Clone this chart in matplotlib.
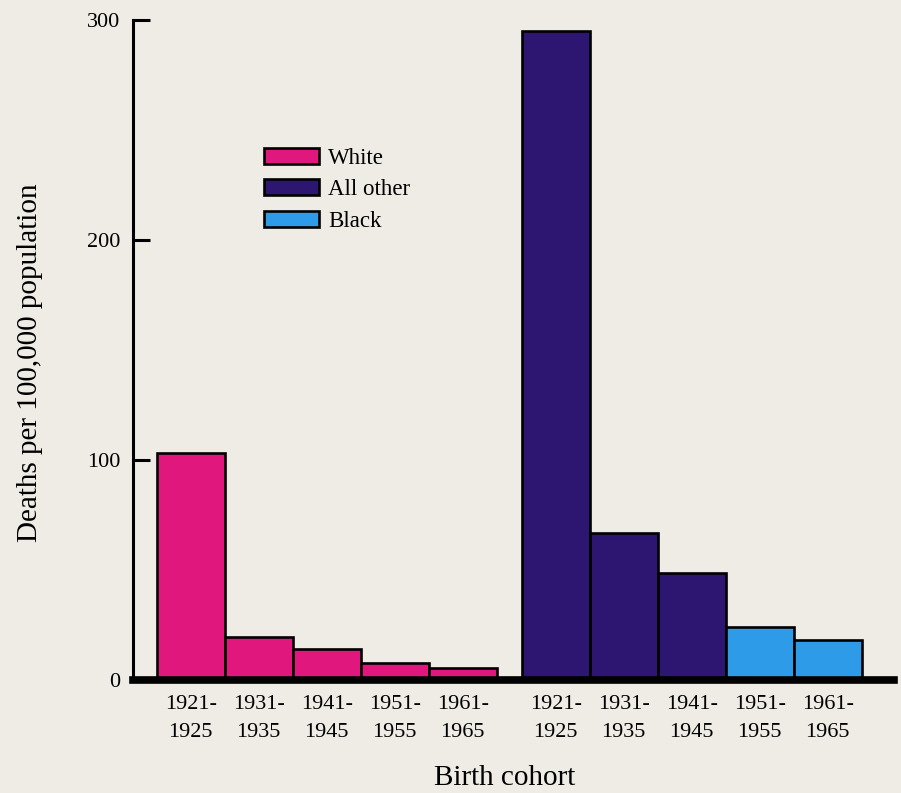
import matplotlib.pyplot as plt
from matplotlib.patches import Patch

plt.rcParams['font.family'] = ['Liberation Serif', 'DejaVu Serif']

# 출생 코호트별 사망률 (인구 10만명당)
cohorts = ['1921-\n1925', '1931-\n1935', '1941-\n1945', '1951-\n1955', '1961-\n1965']
white = [103, 19.5, 14, 7.5, 5.5]
other_groups = ['All other', 'All other', 'All other', 'Black', 'Black']
other = [295, 67, 48.5, 24, 18]

colors = {'White': '#e0177c', 'All other': '#2c1672', 'Black': '#2e9be8'}
bg = '#efece5'

fig = plt.figure(figsize=(9.01, 7.93), dpi=100, facecolor=bg)
ax = fig.add_axes([0.1476, 0.1425, 0.845, 0.8323], facecolor=bg)

left_white = [0.35 + i for i in range(len(white))]
left_other = [5.72 + i for i in range(len(other))]

ax.bar(left_white, white, width=1.0, align='edge', color=colors['White'],
       edgecolor='black', linewidth=1.9, zorder=2)
ax.bar(left_other, other, width=1.0, align='edge',
       color=[colors[g] for g in other_groups],
       edgecolor='black', linewidth=1.9, zorder=2)

ax.set_xlim(0, 11.2)
ax.set_ylim(0, 300)

# 축 스타일
for s in ['top', 'right']:
    ax.spines[s].set_visible(False)
ax.spines['left'].set_linewidth(2.2)
ax.spines['bottom'].set_linewidth(5.5)
ax.spines['bottom'].set_zorder(3)

ax.set_yticks([0, 100, 200, 300])
ax.tick_params(axis='y', direction='in', length=12.5, width=2.2, pad=9, labelsize=16)
ax.yaxis.get_major_ticks()[0].tick1line.set_visible(False)

xt = [x + 0.5 for x in left_white] + [x + 0.5 for x in left_other]
ax.set_xticks(xt)
ax.set_xticklabels(cohorts * 2, fontsize=16, linespacing=1.63)
ax.tick_params(axis='x', length=0, pad=11)

fig.text(0.033, 0.543, 'Deaths per 100,000 population', rotation=90,
         ha='center', va='center', fontsize=21)
fig.text(0.56, 0.019, 'Birth cohort', ha='center', va='center', fontsize=21)

handles = [Patch(facecolor=colors[k], edgecolor='black', linewidth=1.9, label=k)
           for k in ['White', 'All other', 'Black']]
ax.legend(handles=handles, loc='upper left', bbox_to_anchor=(0.16, 0.82),
          frameon=False, fontsize=16.5, handlelength=2.4, handleheight=0.7,
          labelspacing=0.45, handletextpad=0.4, borderaxespad=0)

plt.savefig('out.png', dpi=100, facecolor=bg)
